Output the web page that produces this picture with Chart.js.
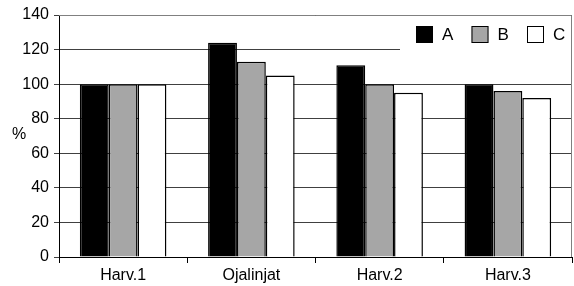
<!DOCTYPE html>
<html>
<head>
<meta charset="utf-8">
<script src="https://cdn.jsdelivr.net/npm/chart.js@4/dist/chart.umd.min.js"></script>
<style>
  html, body { margin: 0; padding: 0; background: #fff; }
  #wrap { width: 574px; height: 286px; position: relative; }
</style>
</head>
<body>
<div id="wrap"><canvas id="chart"></canvas></div>
<script>
const categories = ['Harv.1', 'Ojalinjat', 'Harv.2', 'Harv.3'];
const seriesNames = ['A', 'B', 'C'];
const valuesA = [100, 124, 111, 100];
const valuesB = [100, 113, 100, 96];
const valuesC = [100, 105, 95, 92];
const fills = ['#000000', '#a6a6a6', '#ffffff'];

const FONT = 'Liberation Sans, Arial, sans-serif';

// white legend box over the grid, plus the "%" label and the grey frame
const extras = {
  id: 'extras',
  afterDatasetsDraw(chart) {
    const {ctx, chartArea: a} = chart;
    ctx.save();
    ctx.strokeStyle = '#808080';
    ctx.lineWidth = 1;
    ctx.beginPath();
    ctx.moveTo(a.left, a.top + 0.5);
    ctx.lineTo(a.right - 0.5, a.top + 0.5);
    ctx.lineTo(a.right - 0.5, a.bottom);
    ctx.stroke();

    ctx.fillStyle = '#fff';
    ctx.fillRect(400, a.top + 1, a.right - 401, 44);

    ctx.font = '17px ' + FONT;
    ctx.textBaseline = 'middle';
    chart.data.datasets.forEach((ds, i) => {
      const x = 416 + i * 55.5;
      ctx.fillStyle = ds.backgroundColor;
      ctx.fillRect(x, 26, 17, 17);
      ctx.strokeStyle = '#000';
      ctx.strokeRect(x + 0.5, 26.5, 16, 16);
      ctx.fillStyle = '#000';
      ctx.fillText(ds.label, x + 26, 35);
    });

    ctx.font = '16px ' + FONT;
    ctx.textAlign = 'center';
    ctx.fillText('%', 19, 135);
    ctx.restore();
  }
};

new Chart(document.getElementById('chart'), {
  type: 'bar',
  data: {
    labels: categories,
    datasets: [valuesA, valuesB, valuesC].map((d, i) => ({
      label: seriesNames[i],
      data: d,
      backgroundColor: fills[i],
      borderColor: '#000',
      borderWidth: 1.5,
      categoryPercentage: 0.675,
      barPercentage: 1
    }))
  },
  options: {
    responsive: true,
    maintainAspectRatio: false,
    animation: false,
    layout: { padding: { top: 15, right: 2, left: 0, bottom: 0 } },
    plugins: { legend: { display: false }, tooltip: { enabled: false } },
    scales: {
      x: {
        offset: true,
        grid: { drawOnChartArea: false, drawTicks: true, tickLength: 6, color: '#000' },
        border: { color: '#000', width: 1 },
        ticks: { color: '#000', font: { family: FONT, size: 16 }, padding: 3 },
        afterFit(s) { s.height = 29; }
      },
      y: {
        min: 0, max: 140,
        ticks: { stepSize: 20, color: '#000', font: { family: FONT, size: 16 }, padding: 5 },
        grid: { color: '#404040', tickLength: 5 },
        border: { color: '#000', width: 1 },
        afterFit(s) { s.width = 59; }
      }
    }
  },
  plugins: [extras]
});
</script>
</body>
</html>
